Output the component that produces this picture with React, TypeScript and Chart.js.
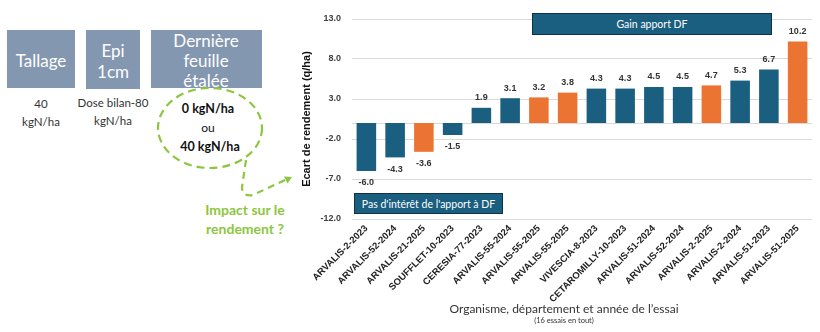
import React, { useEffect, useRef } from "react";
import { Chart, registerables } from "chart.js";

Chart.register(...registerables);

const categories = [
  "ARVALIS-2-2023",
  "ARVALIS-52-2024",
  "ARVALIS-21-2025",
  "SOUFFLET-10-2023",
  "CERESIA-77-2023",
  "ARVALIS-55-2024",
  "ARVALIS-55-2025",
  "ARVALIS-55-2025",
  "VIVESCIA-8-2023",
  "CETAROMILLY-10-2023",
  "ARVALIS-51-2024",
  "ARVALIS-52-2024",
  "ARVALIS-2-2025",
  "ARVALIS-2-2024",
  "ARVALIS-51-2023",
  "ARVALIS-51-2025",
];
const values = [-6.0, -4.3, -3.6, -1.5, 1.9, 3.1, 3.2, 3.8, 4.3, 4.3, 4.5, 4.5, 4.7, 5.3, 6.7, 10.2];
const isYear2025 = [false, false, true, false, false, false, true, true, false, false, false, false, true, false, false, true];
const yMin = -12;
const yMax = 13;
const yStep = 5;

const BLUE = "#1A5E80";
const ORANGE = "#EB7433";
const GREEN = "#8CC63E";
const GREY_BOX = "#8497B0";

const zeroLine = {
  id: "zeroLine",
  beforeDatasetsDraw(chart: any) {
    const { ctx, chartArea, scales } = chart;
    const py = Math.round(scales.y.getPixelForValue(0)) + 0.5;
    ctx.save();
    ctx.strokeStyle = "#d9d9d9";
    ctx.lineWidth = 1;
    ctx.beginPath();
    ctx.moveTo(chartArea.left, py);
    ctx.lineTo(chartArea.right, py);
    ctx.stroke();
    ctx.restore();
  },
};

const valueLabels = {
  id: "valueLabels",
  afterDatasetsDraw(chart: any) {
    const { ctx } = chart;
    const meta = chart.getDatasetMeta(0);
    ctx.save();
    ctx.font = "bold 9px 'Liberation Sans', Arial, sans-serif";
    ctx.fillStyle = "#333333";
    ctx.textAlign = "center";
    ctx.textBaseline = "middle";
    meta.data.forEach((bar: any, i: number) => {
      const v = values[i];
      const y = v >= 0 ? bar.y - 10 : bar.y + 12;
      ctx.fillText(v.toFixed(1), bar.x, y);
    });
    ctx.restore();
  },
};

function ChartPanel() {
  const ref = useRef<HTMLCanvasElement | null>(null);
  useEffect(() => {
    if (!ref.current) return;
    const chart = new Chart(ref.current, {
      type: "bar",
      data: {
        labels: categories,
        datasets: [
          {
            data: values,
            backgroundColor: isYear2025.map((f) => (f ? ORANGE : BLUE)),
            borderWidth: 0,
            barPercentage: 0.68,
            categoryPercentage: 1,
          },
        ],
      },
      options: {
        responsive: false,
        animation: false,
        layout: { padding: { top: 19, right: 8, left: 0, bottom: 0 } },
        plugins: { legend: { display: false }, tooltip: { enabled: false }, title: { display: false } },
        scales: {
          x: {
            grid: { display: false, drawTicks: false },
            border: { display: false },
            afterFit: (s: any) => {
              s.height = 113;
            },
            ticks: {
              autoSkip: false,
              maxRotation: 45,
              minRotation: 45,
              padding: 4,
              color: "#222222",
              font: { family: "'Liberation Sans', Arial, sans-serif", size: 9.5, weight: "bold" },
            },
          },
          y: {
            min: yMin,
            max: yMax,
            afterFit: (s: any) => {
              s.width = 72;
            },
            grid: { color: "#d9d9d9", drawTicks: false },
            border: { display: false },
            ticks: {
              stepSize: yStep,
              padding: 11,
              color: "#404040",
              font: { family: "'Liberation Sans', Arial, sans-serif", size: 9, weight: "bold" },
              callback: (v: any) => Number(v).toFixed(1),
            },
            title: {
              display: true,
              text: "Ecart de rendement (q/ha)",
              color: "#111111",
              padding: { top: 20, bottom: 0 },
              font: { family: "'Liberation Sans', Arial, sans-serif", size: 11, weight: "bold" },
            },
          },
        },
      },
      plugins: [zeroLine, valueLabels],
    });
    return () => chart.destroy();
  }, []);
  return <canvas ref={ref} width={540} height={332} style={{ width: 540, height: 332, display: "block" }} />;
}

function Diagram() {
  const font = "Lato, 'Open Sans', sans-serif";
  return (
    <svg width={300} height={332} style={{ position: "absolute", left: 0, top: 0 }}>
      <rect x={7} y={30} width={68} height={58} fill={GREY_BOX} />
      <rect x={86} y={30} width={54} height={59} fill={GREY_BOX} />
      <rect x={151} y={30} width={111} height={58} fill={GREY_BOX} />
      <g fill="#ffffff" fontFamily={font} fontSize={17} textAnchor="middle" dominantBaseline="central">
        <text x={41} y={60}>Tallage</text>
        <text x={113} y={50}>Epi</text>
        <text x={113} y={71}>1cm</text>
        <text x={206} y={40}>Dernière</text>
        <text x={206} y={60}>feuille</text>
        <text x={206} y={80}>étalée</text>
      </g>
      <g fill="#333333" fontFamily={font} fontSize={11.5} textAnchor="middle" dominantBaseline="central">
        <text x={41} y={103}>40</text>
        <text x={41} y={121}>kgN/ha</text>
        <text x={113} y={102}>Dose bilan-80</text>
        <text x={113} y={120}>kgN/ha</text>
      </g>
      <ellipse cx={210} cy={128} rx={52} ry={40} fill="none" stroke={GREEN} strokeWidth={2.2} strokeDasharray="8 5" />
      <g fontFamily={font} textAnchor="middle" dominantBaseline="central" fill="#111111">
        <text x={208} y={108} fontSize={12.5} fontWeight="bold">0 kgN/ha</text>
        <text x={208} y={127} fontSize={12}>ou</text>
        <text x={210} y={146} fontSize={12.5} fontWeight="bold">40 kgN/ha</text>
      </g>
      <path d="M 246 160 L 242 187 Q 242 197 253 195 L 285 180" fill="none" stroke={GREEN} strokeWidth={2.2} strokeDasharray="7 5" />
      <polygon points="292,177 284,176.5 287.5,183.5" fill={GREEN} />
      <g fontFamily={font} fontSize={14} fontWeight="bold" textAnchor="middle" dominantBaseline="central" fill={GREEN}>
        <text x={245} y={209}>Impact sur le</text>
        <text x={245} y={228}>rendement ?</text>
      </g>
    </svg>
  );
}

export default function App() {
  const boxFont = "Lato, 'Open Sans', sans-serif";
  return (
    <div style={{ position: "absolute", left: 0, top: 0, width: 820, height: 332, background: "#ffffff", overflow: "hidden" }}>
      <Diagram />
      <div style={{ position: "absolute", left: 280, top: 0, width: 540, height: 332 }}>
        <ChartPanel />
      </div>
      <div
        style={{
          position: "absolute", left: 532, top: 13, width: 240, height: 22, boxSizing: "border-box",
          background: BLUE, border: "1.5px solid #0E3347", color: "#ffffff", fontFamily: boxFont, fontSize: 10.5,
          display: "flex", alignItems: "center", justifyContent: "center",
        }}
      >
        Gain apport DF
      </div>
      <div
        style={{
          position: "absolute", left: 354, top: 193, width: 149, height: 21, boxSizing: "border-box",
          background: BLUE, border: "1.5px solid #0E3347", color: "#ffffff", fontFamily: boxFont, fontSize: 10.5,
          display: "flex", alignItems: "center", justifyContent: "center", whiteSpace: "nowrap",
        }}
      >
        Pas d'intérêt de l'apport à DF
      </div>
      <div
        style={{
          position: "absolute", left: 364, top: 302, width: 400, textAlign: "center", fontFamily: boxFont,
          fontSize: 12, color: "#333333", lineHeight: "14px",
        }}
      >
        Organisme, département et année de l’essai
      </div>
      <div
        style={{
          position: "absolute", left: 464, top: 316, width: 200, textAlign: "center", fontFamily: boxFont,
          fontSize: 7.5, color: "#333333", lineHeight: "10px",
        }}
      >
        (16 essais en tout)
      </div>
    </div>
  );
}
